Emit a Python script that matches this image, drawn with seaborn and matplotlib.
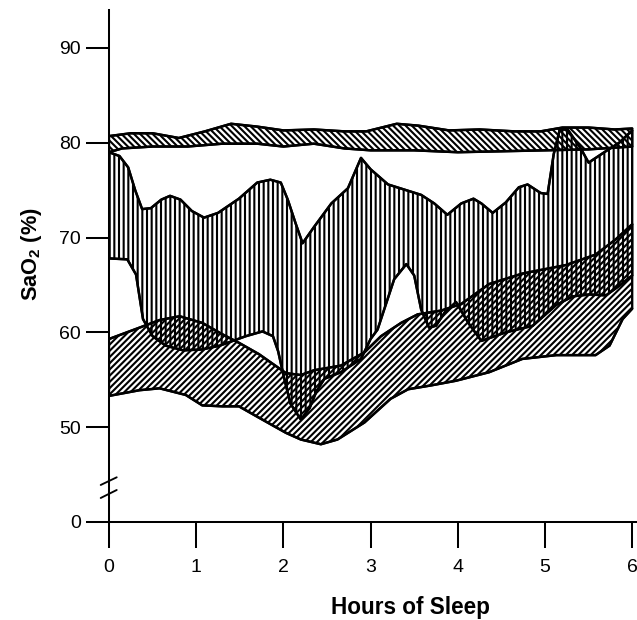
import numpy as np
import pandas as pd
import matplotlib
matplotlib.use("Agg")
import matplotlib.pyplot as plt
import seaborn as sns

# ---- data: SaO2 (%) envelopes over hours of sleep ----
# upper (room-air awake) band
top_hi_h = [0.0, 0.25, 0.5, 0.8, 1.1, 1.4, 1.7, 2.0, 2.35, 2.7, 2.95, 3.3, 3.55, 3.9,
            4.25, 4.65, 4.95, 5.2, 5.5, 5.8, 6.0]
top_hi_v = [80.7, 81.0, 81.0, 80.5, 81.2, 82.0, 81.7, 81.3, 81.4, 81.2, 81.2, 82.0, 81.8, 81.3,
            81.4, 81.2, 81.2, 81.6, 81.6, 81.4, 81.5]
top_lo_h = [0.0, 0.15, 0.5, 0.9, 1.3, 1.7, 2.0, 2.35, 2.7, 3.0, 3.5, 4.0, 4.5, 5.0, 5.5, 6.0]
top_lo_v = [79.0, 79.4, 79.6, 79.6, 79.9, 79.9, 79.6, 79.9, 79.4, 79.2, 79.2, 79.0, 79.1, 79.2,
            79.3, 79.6]

# vertically hatched band
vert_hi_h = [0.00, 0.12, 0.22, 0.30, 0.38, 0.48, 0.60, 0.70, 0.82, 0.95, 1.09, 1.25, 1.49,
             1.70, 1.85, 1.97, 2.05, 2.14, 2.22, 2.35, 2.55, 2.74, 2.89, 3.00, 3.20, 3.58,
             3.73, 3.88, 4.04, 4.18, 4.27, 4.40, 4.55, 4.70, 4.80, 4.95, 5.03, 5.10, 5.17,
             5.26, 5.41, 5.50, 5.68, 5.85, 6.00]
vert_hi_v = [79.0, 78.6, 77.4, 75.0, 73.0, 73.1, 74.0, 74.4, 74.0, 72.8, 72.1, 72.6, 74.1,
             75.8, 76.1, 75.8, 74.0, 71.5, 69.4, 71.1, 73.6, 75.2, 78.4, 77.2, 75.6, 74.5,
             73.6, 72.4, 73.6, 74.1, 73.6, 72.6, 73.7, 75.3, 75.6, 74.7, 74.6, 78.8, 81.4,
             81.4, 79.4, 77.9, 79.0, 80.0, 81.3]
vert_lo_h = [0.00, 0.21, 0.31, 0.39, 0.50, 0.65, 0.85, 1.07, 1.27, 1.42, 1.57, 1.76, 1.88,
             1.94, 2.00, 2.08, 2.20, 2.30, 2.38, 2.47, 2.66, 2.89, 3.00, 3.08, 3.27, 3.41,
             3.50, 3.58, 3.67, 3.75, 3.85, 3.98, 4.12, 4.27, 4.55, 4.86, 5.13, 5.32, 5.51,
             5.70, 5.85, 6.00]
vert_lo_v = [67.8, 67.7, 66.1, 61.4, 59.6, 58.6, 58.1, 58.2, 58.6, 59.1, 59.6, 60.1, 59.6,
             58.0, 55.5, 52.5, 50.8, 52.0, 53.8, 55.1, 55.8, 57.2, 59.3, 60.3, 65.6, 67.2,
             66.0, 62.4, 60.5, 60.7, 62.1, 63.2, 61.0, 59.1, 60.0, 60.7, 62.9, 63.8, 64.0,
             63.9, 64.9, 66.0]

# diagonally hatched lower band
diag_hi_h = [0.00, 0.35, 0.58, 0.81, 1.07, 1.30, 1.49, 1.72, 2.03, 2.20, 2.35, 2.66, 2.93,
             3.12, 3.35, 3.54, 3.81, 4.04, 4.36, 4.74, 5.24, 5.58, 5.81, 6.00]
diag_hi_v = [59.3, 60.5, 61.3, 61.7, 61.0, 59.8, 58.9, 57.7, 55.7, 55.5, 56.0, 56.5, 57.9,
             59.6, 61.0, 61.9, 62.3, 63.0, 65.1, 66.2, 67.1, 68.2, 69.8, 71.4]
diag_lo_h = [0.00, 0.35, 0.58, 0.88, 1.07, 1.30, 1.49, 1.72, 2.03, 2.20, 2.43, 2.62, 2.93,
             3.23, 3.43, 3.69, 3.98, 4.36, 4.74, 5.13, 5.58, 5.74, 5.89, 6.00]
diag_lo_v = [53.3, 53.9, 54.1, 53.4, 52.3, 52.2, 52.2, 51.0, 49.4, 48.7, 48.2, 48.7, 50.5,
             53.0, 54.0, 54.4, 54.9, 55.8, 57.2, 57.6, 57.6, 58.6, 61.4, 62.5]

y_ticks = [40, 50, 60, 70, 80, 90]
y_tick_labels = ["0", "50", "60", "70", "80", "90"]
x_ticks = [0, 1, 2, 3, 4, 5, 6]

# ---- style ----
sns.set_theme(style="ticks")
plt.rcParams["font.family"] = ["Liberation Sans", "DejaVu Sans"]
plt.rcParams["mathtext.fontset"] = "custom"
plt.rcParams["mathtext.rm"] = "Liberation Sans:bold"
plt.rcParams["mathtext.it"] = "Liberation Sans:bold"
plt.rcParams["mathtext.bf"] = "Liberation Sans:bold"
plt.rcParams["hatch.linewidth"] = 1.35
plt.rcParams["hatch.color"] = "black"
for key in ("text.color", "axes.labelcolor", "xtick.color", "ytick.color", "axes.edgecolor"):
    plt.rcParams[key] = "black"

DPI = 112
fig = plt.figure(figsize=(637 / DPI, 620 / DPI), dpi=DPI)
ax = fig.add_axes([109 / 637, 98 / 620, 528 / 637, 512 / 620])

bands = [
    ("top", top_hi_h, top_hi_v, top_lo_h, top_lo_v, "\\" * 6),
    ("vert", vert_hi_h, vert_hi_v, vert_lo_h, vert_lo_v, "||||"),
    ("diag", diag_hi_h, diag_hi_v, diag_lo_h, diag_lo_v, "/" * 6),
]

rows = []
for name, hh, hv, lh, lv, hatch in bands:
    px = np.concatenate([hh, lh[::-1]])
    py = np.concatenate([hv, lv[::-1]])
    ax.fill(px, py, facecolor="none", edgecolor="black", hatch=hatch,
            linewidth=1.5, joinstyle="round", zorder=2)
    rows += [{"edge": f"{name}_hi", "hour": h, "sao2": v} for h, v in zip(hh, hv)]
    rows += [{"edge": f"{name}_lo", "hour": h, "sao2": v} for h, v in zip(lh, lv)]

edges = pd.DataFrame(rows)
n_edges = edges["edge"].nunique()
sns.lineplot(data=edges, x="hour", y="sao2", hue="edge", units="edge", estimator=None,
             sort=False, palette=["black"] * n_edges, linewidth=1.6, legend=False,
             solid_joinstyle="round", ax=ax, zorder=3)

# ---- axes ----
ax.set_xlim(0, 528 / 87.2)
ax.set_ylim(40, 94)
ax.set_xticks(x_ticks)
ax.set_xticklabels([str(t) for t in x_ticks])
ax.set_yticks(y_ticks)
ax.set_yticklabels(y_tick_labels)
ax.set_xlabel("")
ax.set_ylabel("")
for side in ("top", "right"):
    ax.spines[side].set_visible(False)
for side in ("left", "bottom"):
    ax.spines[side].set_linewidth(1.3)
    ax.spines[side].set_color("black")
ax.tick_params(axis="y", direction="out", length=14.8, width=1.3, pad=3.2,
               labelsize=12.5, colors="black", labelcolor="black")
ax.tick_params(axis="x", direction="out", length=16.7, width=1.3, pad=7,
               labelsize=12.5, colors="black", labelcolor="black")

# axis break marks on the y axis
for y0, y1 in [(0.0469, 0.0625), (0.0723, 0.0873)]:
    ax.plot([-0.0157, 0.0146], [y0, y1], transform=ax.transAxes, color="black",
            linewidth=1.2, clip_on=False, zorder=5)

fig.text(410 / 637, 6 / 620, "Hours of Sleep", ha="center", va="baseline",
         fontsize=14.5, fontweight="bold", color="black")
fig.text(31 / 637, (620 - 254) / 620, "SaO$_2$ (%)", ha="center", va="center",
         rotation=90, fontsize=14, fontweight="bold", color="black")

fig.savefig("out.png", dpi=DPI, facecolor="white")
